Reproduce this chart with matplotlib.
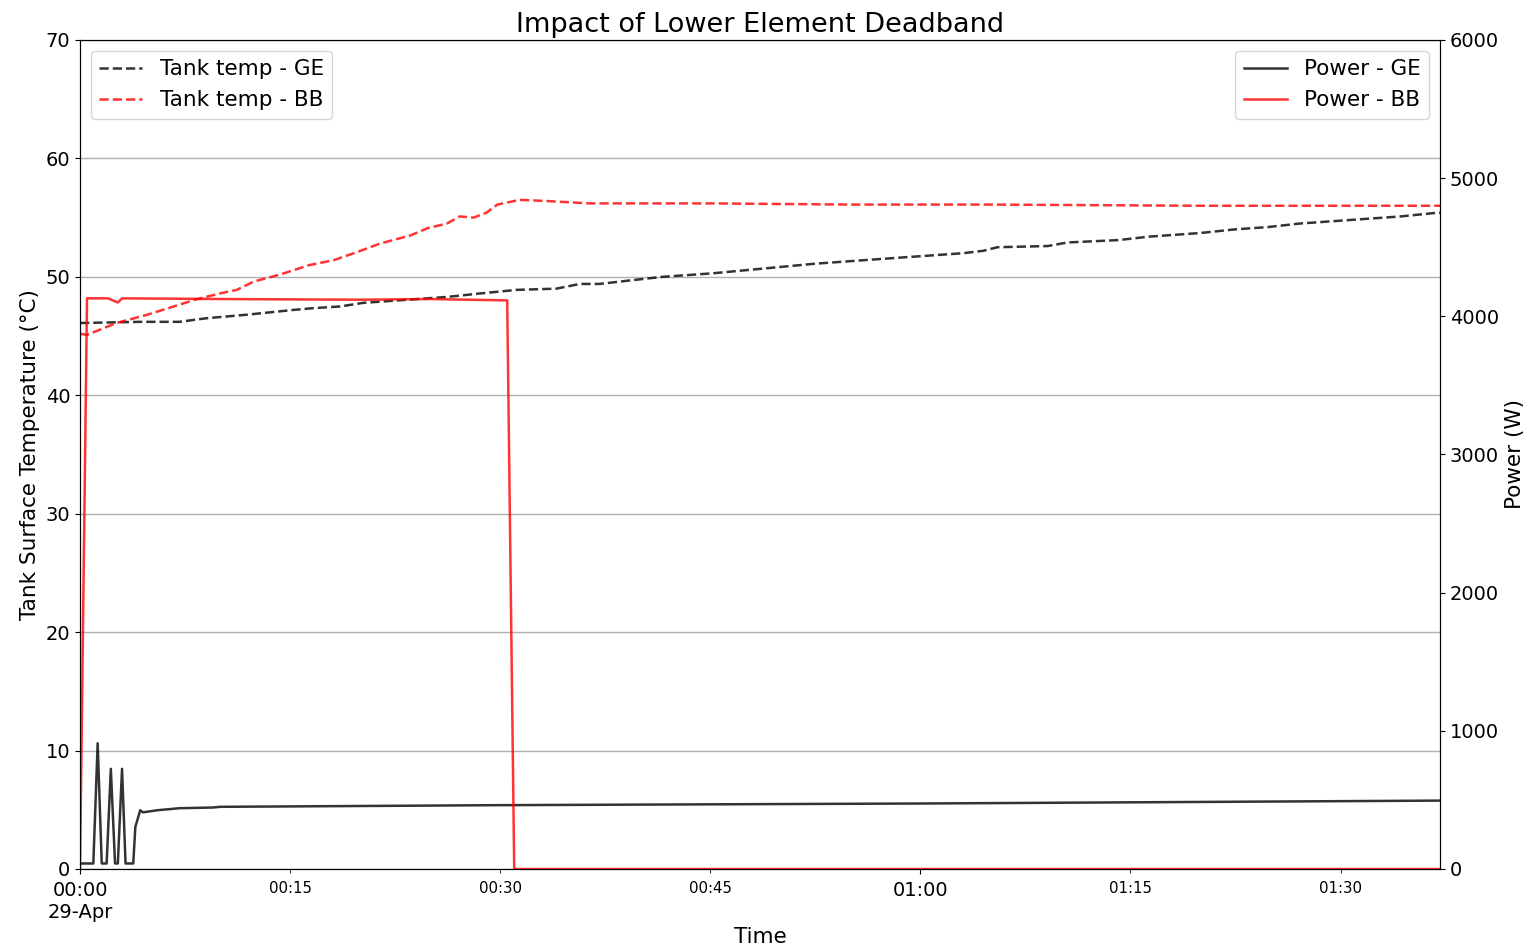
import matplotlib
matplotlib.use("Agg")
import matplotlib.pyplot as plt
import matplotlib.dates as mdates
import pandas as pd

start = pd.Timestamp("2019-04-29 00:00:00")
end_min = 97.1

# tank temperature, minutes after start / degC
t_ge_min = [0, 4.3, 7.1, 9.0, 11.9, 15.2, 16.6, 18.6, 20.2, 23.8, 26.2, 28.6, 31.2, 34.0,
            35.7, 37.1, 39.3, 41.6, 45.2, 48.8, 52.4, 55.9, 59.5, 63.1, 64.5, 65.5, 69.1,
            70.5, 74.1, 76.4, 80.0, 82.4, 84.8, 87.1, 89.5, 91.9, 94.3, 96.8, 97.1]
temp_ge = [46.1, 46.2, 46.2, 46.5, 46.8, 47.2, 47.35, 47.5, 47.8, 48.1, 48.3, 48.6, 48.9, 49.0,
           49.4, 49.4, 49.7, 50.0, 50.3, 50.7, 51.1, 51.4, 51.7, 52.0, 52.2, 52.5, 52.6,
           52.9, 53.1, 53.4, 53.7, 54.0, 54.2, 54.5, 54.7, 54.9, 55.1, 55.4, 55.4]

t_bb_min = [0, 0.5, 2.6, 4.8, 6.7, 8.3, 10.0, 11.2, 12.4, 14.3, 16.4, 18.1, 19.8, 21.4,
            23.6, 24.8, 26.2, 27.1, 28.1, 29.0, 29.8, 31.4, 33.3, 36.4, 45, 55, 65, 80, 97.1]
temp_bb = [45.2, 45.1, 46.1, 46.8, 47.5, 48.1, 48.6, 48.9, 49.6, 50.2, 51.0, 51.4, 52.1, 52.8,
           53.5, 54.1, 54.5, 55.1, 55.0, 55.4, 56.1, 56.5, 56.4, 56.2, 56.2, 56.1, 56.1, 56.0, 56.0]

# element power, minutes after start / W
p_ge_min = [0, 0.95, 1.26, 1.55, 1.9, 2.2, 2.5, 2.7, 3.0, 3.25, 3.8, 3.95, 4.3, 4.5, 5.5,
            7.1, 9.5, 10, 30, 60, 97.1]
power_ge = [40, 40, 910, 40, 40, 725, 40, 40, 725, 40, 40, 305, 425, 410, 425,
            440, 445, 450, 462, 474, 495]

p_bb_min = [0, 0.5, 2.0, 2.7, 3.0, 10, 20, 25, 30.5, 31.0, 97.1]
power_bb = [0, 4130, 4130, 4100, 4130, 4125, 4120, 4125, 4115, 0, 0]


def to_time(mins):
    return start + pd.to_timedelta(mins, unit="m")


fig = plt.figure(figsize=(15.3, 9.49), dpi=100)
ax = fig.add_axes([0.0523, 0.0843, 0.8889, 0.8736])
ax2 = ax.twinx()

l1, = ax.plot(to_time(t_ge_min), temp_ge, "k--", lw=1.8, alpha=0.8, label="Tank temp - GE")
l2, = ax.plot(to_time(t_bb_min), temp_bb, "r--", lw=1.8, alpha=0.8, label="Tank temp - BB")
l3, = ax2.plot(to_time(p_ge_min), power_ge, "k-", lw=1.8, alpha=0.8, label="Power - GE")
l4, = ax2.plot(to_time(p_bb_min), power_bb, "r-", lw=1.8, alpha=0.8, label="Power - BB")

ax.set_ylim(0, 70)
ax2.set_ylim(0, 6000)
ax.set_xlim(to_time(0), to_time(end_min))
ax.grid(axis="y", color="#b0b0b0", lw=1)
ax.set_axisbelow(True)

ax.xaxis.set_major_locator(mdates.HourLocator())
ax.xaxis.set_minor_locator(mdates.MinuteLocator(byminute=[15, 30, 45]))


def major_fmt(x, pos):
    d = mdates.num2date(x)
    if d.hour == 0 and d.minute == 0:
        return d.strftime("%H:%M") + "\n" + d.strftime("%d-%b")
    return d.strftime("%H:%M")


ax.xaxis.set_major_formatter(plt.FuncFormatter(major_fmt))
ax.xaxis.set_minor_formatter(mdates.DateFormatter("%H:%M"))
ax.tick_params(axis="x", which="major", labelsize=14, pad=5)
ax.tick_params(axis="x", which="minor", labelsize=10.8, pad=6, length=3)
ax.tick_params(axis="y", labelsize=14)
ax2.tick_params(axis="y", labelsize=14)

ax.set_xlabel("Time", fontsize=15.5)
ax.set_ylabel("Tank Surface Temperature (°C)", fontsize=15.5)
ax2.set_ylabel("Power (W)", fontsize=15.5)
ax.set_title("Impact of Lower Element Deadband", fontsize=19.5)

ax.legend(handles=[l1, l2], loc="upper left", fontsize=15.5)
ax2.legend(handles=[l3, l4], loc="upper right", fontsize=15.5)

fig.savefig("out.png", dpi=100)
